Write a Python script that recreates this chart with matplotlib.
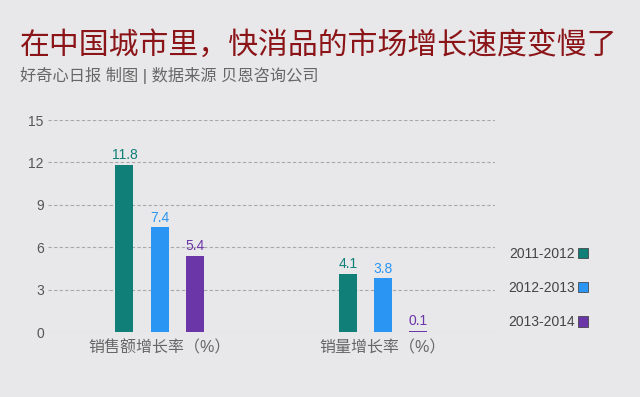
import numpy as np
import matplotlib
matplotlib.use('Agg')
import matplotlib.pyplot as plt
from matplotlib.patches import Patch

plt.rcParams['font.family'] = ['Liberation Sans', 'Noto Sans CJK SC']

# data
categories = ['销售额增长率（%）', '销量增长率（%）']
periods = ['2011-2012', '2012-2013', '2013-2014']
values = {
    '2011-2012': [11.8, 4.1],
    '2012-2013': [7.4, 3.8],
    '2013-2014': [5.4, 0.1],
}
colors = ['#0f7f78', '#2b95f3', '#6b36a8']
bg = '#e8e8ea'

fig = plt.figure(figsize=(6.4, 3.97), dpi=100, facecolor=bg)
ax = fig.add_axes([0.075, 0.1637, 0.698, 0.534], facecolor=bg)

x = np.arange(len(categories))
offset = 0.158
width = 0.08
for i, p in enumerate(periods):
    bars = ax.bar(x + (i - 1) * offset, values[p], width, color=colors[i], zorder=3)
    ax.bar_label(bars, labels=[f'{v:.1f}' for v in values[p]], padding=2,
                 color=colors[i], fontsize=10)

ax.set_xlim(-0.5, 1.5)
ax.set_ylim(0, 15)
ax.set_yticks([0, 3, 6, 9, 12, 15])
ax.grid(axis='y', linestyle=(0, (3, 2)), color='#a8a8aa', linewidth=0.8, zorder=0)
for s in ax.spines.values():
    s.set_visible(False)
ax.tick_params(axis='y', length=0, labelsize=10, labelcolor='#555555', pad=3)
ax.tick_params(axis='x', length=0, labelsize=11.5, labelcolor='#666666', pad=6)
ax.set_xticks(x)
ax.set_xticklabels(categories)

# title
fig.text(0.031, 0.885, '在中国城市里，快消品的市场增长速度变慢了', fontsize=21.5,
         color='#8b1418', va='center', ha='left')
fig.text(0.031, 0.81, '好奇心日报 制图 | 数据来源 贝恩咨询公司', fontsize=11.7,
         color='#666666', va='center', ha='left')

# legend
handles = [Patch(facecolor=c, edgecolor='#333333', linewidth=0.5) for c in colors]
fig.legend(handles, periods, loc='upper right', bbox_to_anchor=(588 / 640, 1 - 247 / 397),
           frameon=False, markerfirst=False, handlelength=0.75, handleheight=0.75,
           handletextpad=0.2, labelspacing=1.45, fontsize=10, labelcolor='#444444',
           borderpad=0, borderaxespad=0)

fig.savefig('out.png', dpi=100, facecolor=bg)
